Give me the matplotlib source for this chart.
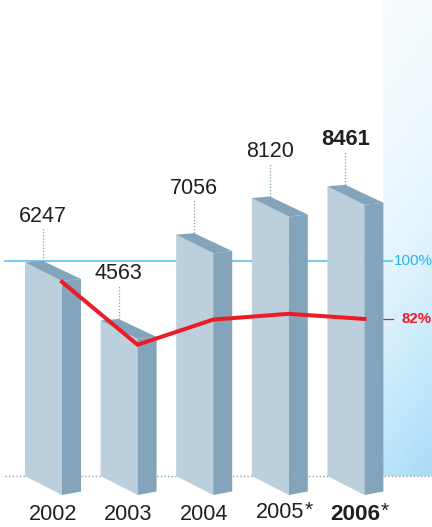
#!/usr/bin/env python

import numpy as np
import matplotlib
matplotlib.use("Agg")
import matplotlib.pyplot as plt
from matplotlib.colors import LinearSegmentedColormap
from matplotlib.patches import Polygon

years = ["2002", "2003", "2004", "2005", "2006"]
values = [6247, 4563, 7056, 8120, 8461]
percent = [93.5, 74.0, 81.8, 83.6, 82.0]

plt.rcParams["font.family"] = ["Liberation Sans", "DejaVu Sans"]

W, H = 432, 527
BASE = 476  # pixel row of value 0
PX_PER_UNIT = 215 / 6247
PITCH = 75.6
LEFT = 25


def px_x(p):
    return (p - LEFT) / PITCH


def dy(p):
    return p / PX_PER_UNIT


fig = plt.figure(figsize=(W / 100, H / 100), dpi=100)
ax = fig.add_axes([0, 0, 1, 1])
ax.axis("off")

# percent scale on the right, 100% level with 2002 bar top
ax2 = ax.twinx()
ax2.set_ylim(100 - (H - 261) / 3.22, 100 + 261 / 3.22)
ax2.axis("off")

# light blue panel
cmap = LinearSegmentedColormap.from_list("panel", ["#f7fcff", "#e3f4fd", "#c6e9fa", "#a8dcf7"])
yy, xx = np.mgrid[0:1:120j, 0:1:30j]
grad = (yy * 0.88 + xx * 0.12)
ax.imshow(grad ** 1.6, extent=(px_x(383), px_x(W), 0, dy(BASE)), cmap=cmap,
          aspect="auto", origin="upper", zorder=0, vmin=0, vmax=1)
ax.set_xlim(px_x(0), px_x(W))
ax.set_ylim(dy(BASE - H), dy(BASE))

# reference lines
ax.plot([px_x(5), px_x(392)], [values[0], values[0]], color="#5cc4ec", lw=1.2, zorder=1)
ax.plot([px_x(5), px_x(W)], [0, 0], color="#7fa8c0", lw=1.0, ls=(0, (1, 1.6)), zorder=1)
ax.plot([px_x(383), px_x(393)], [dy(BASE - 319)] * 2, color="#ee1c25", lw=0.9, zorder=1)

# bars: front face, side and top
front_w = px_x(62) - px_x(25)
side_w = px_x(81) - px_x(62)
back_w = px_x(43) - px_x(25)
drop = dy(20)
rise_top = dy(2)
rise_bottom = dy(3.5)
for i, v in enumerate(values):
    fl, fr = i, i + front_w
    sr = fr + side_w
    ax.add_patch(Polygon([(fl, v - dy(1.5)), (fr, v - drop), (fr, -dy(19)), (fl, 0)],
                         fc="#bccfdc", ec="none", zorder=2))
    ax.add_patch(Polygon([(fr, v - drop), (sr, v - drop + rise_top), (sr, -dy(19) + rise_bottom), (fr, -dy(19))],
                         fc="#83a4ba", ec="none", zorder=2))
    ax.add_patch(Polygon([(fl, v - dy(1.5)), (i + back_w, v), (sr, v - drop + rise_top), (fr, v - drop)],
                         fc="#83a4ba", ec="none", zorder=2))
    ax.plot([i + back_w] * 2, [v, v + dy(33)], color="#7fa0b5", lw=0.9,
            ls=(0, (1, 1.5)), zorder=2)
    bold = i == len(values) - 1
    ax.text(i + back_w, v + dy(45), str(v), ha="center", va="center",
            fontsize=15.8 if bold else 15.5,
            color="#231f20", fontweight="bold" if bold else "normal", zorder=4)

# red line, on the front corner of each bar
ax2.plot([i + front_w for i in range(len(years))], percent, color="#ed1c24", lw=2.9,
         solid_joinstyle="miter", zorder=5)

# year labels
label_y = [515, 515, 514, 513, 514]
for i, year in enumerate(years):
    cx = i + (front_w + side_w) / 2
    bold = i == 4
    t = ax.text(cx, dy(BASE - label_y[i]), year, ha="center", va="center",
                fontsize=16.2 if bold else 15.6, color="#231f20",
                fontweight="bold" if bold else "normal")
    if i >= 3:
        ax.annotate("*", xy=(1, 0.5), xycoords=t, xytext=(0.3, 2), textcoords="offset points",
                    ha="left", va="center", fontsize=15, color="#231f20")

ax.text(px_x(394), dy(BASE - 261), "100%", ha="left", va="center", fontsize=11, color="#29b4ec")
ax.text(px_x(401), dy(BASE - 319), "82%", ha="left", va="center", fontsize=10.8,
        color="#ed1c24", fontweight="bold")

fig.savefig("out.png", dpi=100)
